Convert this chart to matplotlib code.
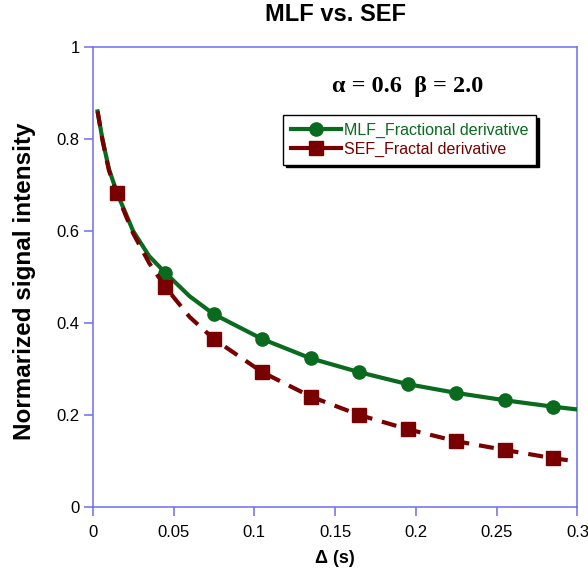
import numpy as np
import matplotlib.pyplot as plt
from matplotlib.lines import Line2D
from matplotlib.ticker import FuncFormatter

# curve points
line_x = [0.003, 0.006, 0.010, 0.015, 0.025, 0.035, 0.045, 0.06, 0.075,
          0.105, 0.135, 0.165, 0.195, 0.225, 0.255, 0.285, 0.3]
mlf_line = [0.860, 0.800, 0.735, 0.683, 0.600, 0.545, 0.509, 0.458, 0.419,
            0.365, 0.323, 0.293, 0.267, 0.248, 0.232, 0.218, 0.212]
sef_line = [0.860, 0.798, 0.732, 0.680, 0.595, 0.530, 0.478, 0.413, 0.365,
            0.293, 0.240, 0.200, 0.169, 0.143, 0.124, 0.106, 0.099]

# marker points
mk_x = [0.015, 0.045, 0.075, 0.105, 0.135, 0.165, 0.195, 0.225, 0.255, 0.285]
mlf_mk = [0.683, 0.509, 0.419, 0.365, 0.323, 0.293, 0.267, 0.248, 0.232, 0.218]
sef_mk = [0.682, 0.478, 0.365, 0.293, 0.240, 0.200, 0.169, 0.143, 0.124, 0.106]

x_ticks = [0, 0.05, 0.1, 0.15, 0.2, 0.25, 0.3]
y_ticks = [0, 0.2, 0.4, 0.6, 0.8, 1.0]

GREEN = "#0A6A1E"
RED = "#780000"
AXIS = "#6E6EF0"

plt.rcParams["font.family"] = ["Liberation Sans", "DejaVu Sans"]

fig = plt.figure(figsize=(5.88, 5.73), dpi=100)
ax = fig.add_axes([0.1577, 0.1152, 0.8243, 0.8028])

ax.plot(line_x, mlf_line, color=GREEN, lw=3, solid_joinstyle="round", zorder=3)
ax.plot(mk_x, mlf_mk, "o", color=GREEN, ms=9.5, zorder=4)
ax.plot(line_x, sef_line, color=RED, lw=3, linestyle=(0, (3.6, 2.4)), zorder=5)
ax.plot(mk_x, sef_mk, "s", color=RED, ms=10, zorder=6)

ax.set_xlim(0, 0.3)
ax.set_ylim(0, 1)
ax.set_xticks(x_ticks)
ax.set_yticks(y_ticks)
fmt = FuncFormatter(lambda v, p: "%g" % v)
ax.xaxis.set_major_formatter(fmt)
ax.yaxis.set_major_formatter(fmt)

for s in ax.spines.values():
    s.set_color(AXIS)
    s.set_linewidth(1.1)
ax.tick_params(axis="both", direction="out", length=6.5, width=1.1,
               color=AXIS, labelsize=12)
ax.tick_params(axis="x", pad=6.5)
ax.tick_params(axis="y", pad=3)

ax.set_title("MLF vs. SEF", fontsize=17, fontweight="bold", pad=19)
ax.set_xlabel("Δ (s)", fontsize=13, fontweight="bold")
ax.xaxis.set_label_coords(0.5, -0.094)
ax.set_ylabel("Normarized signal intensity", fontsize=17.5, fontweight="bold")
ax.yaxis.set_label_coords(-0.118, 0.49)

ax.text(0.1947, 0.914, "α = 0.6  β = 2.0", ha="center", va="center",
        fontsize=17.5, fontweight="bold",
        family=["Liberation Serif", "DejaVu Serif"])

handles = [
    Line2D([], [], color=GREEN, lw=3, marker="o", ms=9.5),
    Line2D([], [], color=RED, lw=3, marker="s", ms=10),
]
leg = ax.legend(handles, ["MLF_Fractional derivative", "SEF_Fractal derivative"],
                loc="upper left", bbox_to_anchor=(0.393, 0.852), borderaxespad=0,
                fontsize=11.5, frameon=True, fancybox=False, handlelength=3.1,
                handletextpad=0.2, labelspacing=0.2, borderpad=0.5,
                shadow={"color": "black", "alpha": 1.0})
leg.get_frame().set_edgecolor("black")
leg.get_frame().set_linewidth(1.0)
for t, c in zip(leg.get_texts(), [GREEN, RED]):
    t.set_color(c)

fig.savefig("out.png", dpi=100)
